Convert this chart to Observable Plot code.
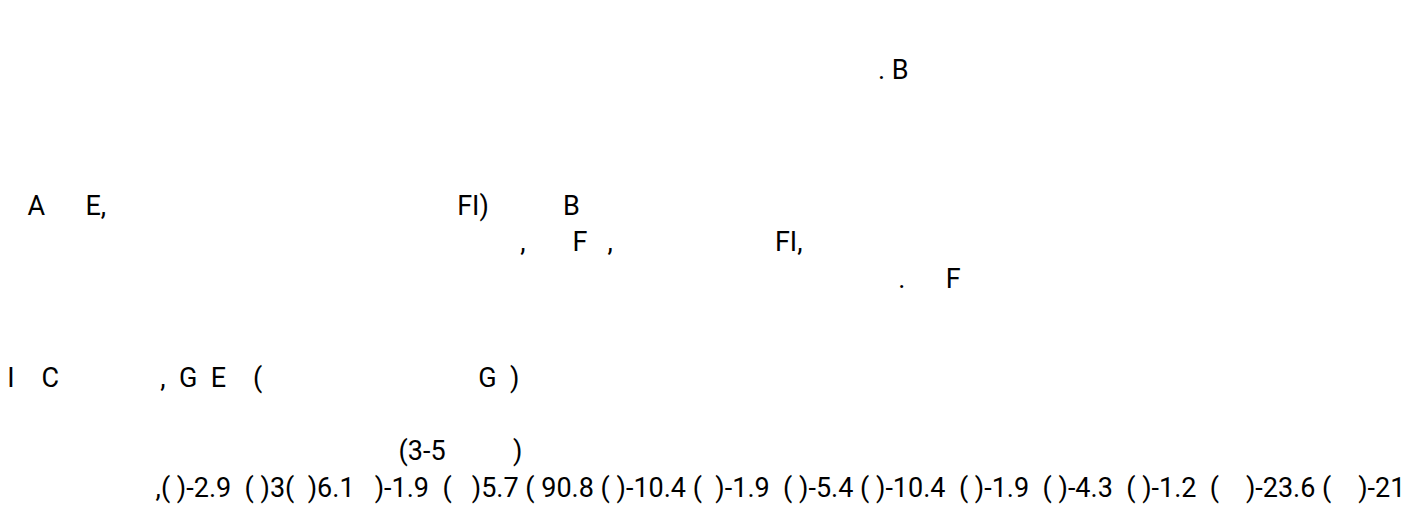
<!DOCTYPE html>
<html>
<head>
<meta charset="utf-8">
<script src="https://cdn.jsdelivr.net/npm/d3@7"></script>
<script src="https://cdn.jsdelivr.net/npm/@observablehq/plot@0.6"></script>
<style>
  html, body { margin: 0; padding: 0; background: #fff; }
  #chart svg text, #chart svg tspan { white-space: pre; }
</style>
</head>
<body>
<div id="chart"></div>
<script>
// One full-width blank stands in for each glyph the reference could not draw.
const W = "\u3000";
const gap = (wide, narrow) => W.repeat(wide) + " ".repeat(narrow);

const paragraph1 = [
  W,
  gap(32, 2) + ". B",
  W,
  W
];

const paragraph2 = [
  gap(1, 0) + "A" + gap(1, 2) + "E," + gap(13, 0) + "FI)" + gap(2, 3) + "B",
  gap(19, 1) + "," + gap(1, 3) + "F" + gap(0, 3) + "," + gap(6, 0) + "FI,",
  gap(33, 1) + "." + gap(1, 2) + "F",
  W
];

const paragraph3 = [
  gap(0, 1) + "I" + gap(1, 0) + "C" + gap(3, 3) + "," + gap(0, 2) + "G" + gap(0, 2) + "E" + gap(1, 0) + "(" + gap(8, 0) + "G" + gap(0, 2) + ")",
  W,
  gap(14, 3) + "(3-5" + gap(2, 2) + ")"
];

// Last line: the series values and the brackets that precede each one
const values = ["-2.9", "3", "6.1", "-1.9", "5.7", "90.8", "-10.4", "-1.9", "-5.4", "-10.4", "-1.9", "-4.3", "-1.2", "-23.6", "-21"];
const brackets = [
  gap(5, 3) + ",( )",
  "  ( )",
  "(  )",
  "   )",
  "  (   )",
  " ( ",
  " ( )",
  " (  )",
  "  ( )",
  " ( )",
  "  ( )",
  "  ( )",
  "  ( )",
  "  (    )",
  " (    )"
];
const valueLine = values.map((v, i) => brackets[i] + v).join("");

const paragraphs = [paragraph1, paragraph2, [...paragraph3, valueLine]]
  .map((lines, i) => ({index: i, text: lines.join("\n")}));

const chart = Plot.plot({
  width: 1409,
  height: 509,
  margin: 0,
  y: {domain: [0, 2], range: [16, 360], axis: null},
  marks: [
    Plot.text(paragraphs, {
      y: "index",
      text: "text",
      frameAnchor: "left",
      textAnchor: "start",
      lineAnchor: "top",
      lineHeight: 1.363,
      fontSize: 27,
      fontFamily: "Roboto, 'Noto Sans CJK SC', sans-serif",
      fill: "black"
    })
  ]
});
document.getElementById("chart").append(chart);
</script>
</body>
</html>
